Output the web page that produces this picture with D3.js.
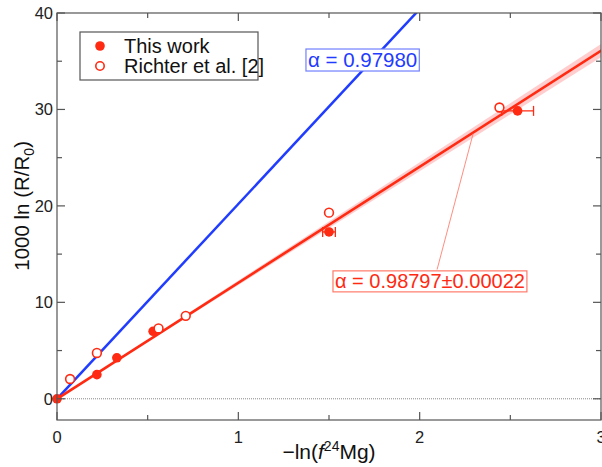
<!DOCTYPE html>
<html>
<head>
<meta charset="utf-8">
<script src="https://cdn.jsdelivr.net/npm/d3@7"></script>
<style>
  body { margin: 0; background: #fff; }
  text { font-family: "Liberation Sans", Arial, Helvetica, sans-serif; }
</style>
</head>
<body>
<div id="chart"></div>
<script>
var width = 602;
var height = 467;
let red = "#ff2a12";
let blue = "#1f3cff";

// This work (filled)
let work_x = [0, 0.22, 0.33, 0.53, 1.50, 2.54];
let work_y = [0, 2.5, 4.25, 7.0, 17.3, 29.85];
let work_xerr = [0, 0, 0, 0, 0.035, 0.088];

// Richter et al. [2] (open)
let richter_x = [0.072, 0.22, 0.56, 0.71, 1.50, 2.44];
let richter_y = [2.05, 4.75, 7.3, 8.6, 19.3, 30.2];

// fitted slopes : 1000*(1-alpha)
let slope_richter = 20.2;   // alpha = 0.97980
let slope_work = 12.03;     // alpha = 0.98797
let slope_work_err = 0.23;  // +-0.00022

let x_ticks = [0, 1, 2, 3];
let x_minor = [0.5, 1.5, 2.5];
let y_ticks = [0, 10, 20, 30, 40];
let y_minor = [5, 15, 25, 35];

var margin = {left: 57, right: 1, top: 13, bottom: 47};

var svg = d3.select("#chart").append("svg")
  .attr("width", width)
  .attr("height", height);

var x = d3.scaleLinear().domain([0, 3]).range([margin.left, width - margin.right]);
var y = d3.scaleLinear().domain([-2.2, 40]).range([height - margin.bottom, margin.top]);

svg.append("clipPath").attr("id", "clip")
  .append("rect")
  .attr("x", x(0)).attr("y", y(40))
  .attr("width", x(3) - x(0)).attr("height", y(-2.2) - y(40));

var plot = svg.append("g").attr("clip-path", "url(#clip)");

//------------------ band + fit lines ------------------
let xs = [0, 3.2];
plot.append("path")
  .datum(xs)
  .attr("d", d3.area()
    .x(d => x(d))
    .y0(d => y(d * (slope_work - slope_work_err)))
    .y1(d => y(d * (slope_work + slope_work_err))))
  .style("fill", "rgba(255,90,90,0.3)");

plot.append("path")
  .datum(xs)
  .attr("d", d3.line().x(d => x(d)).y(d => y(d * slope_richter)))
  .style("stroke", blue).style("stroke-width", 2.5).style("fill", "none");

plot.append("path")
  .datum(xs)
  .attr("d", d3.line().x(d => x(d)).y(d => y(d * slope_work)))
  .style("stroke", red).style("stroke-width", 2.6).style("fill", "none");

// dotted zero line
plot.append("line")
  .attr("x1", x(0)).attr("x2", x(3))
  .attr("y1", y(0)).attr("y2", y(0))
  .style("stroke", "#888").style("stroke-width", 1)
  .style("stroke-dasharray", "1,1");

//------------------ points ------------------
let work = work_x.map((d, i) => ({x: d, y: work_y[i], e: work_xerr[i]}));
let richter = richter_x.map((d, i) => ({x: d, y: richter_y[i]}));

var g_err = svg.append("g").style("stroke", red).style("stroke-width", 1.3);
work.filter(d => d.e > 0).forEach(function(d) {
  g_err.append("line")
    .attr("x1", x(d.x - d.e)).attr("x2", x(d.x + d.e))
    .attr("y1", y(d.y)).attr("y2", y(d.y));
  [d.x - d.e, d.x + d.e].forEach(function(v) {
    g_err.append("line")
      .attr("x1", x(v)).attr("x2", x(v))
      .attr("y1", y(d.y) - 5).attr("y2", y(d.y) + 5);
  });
});

svg.append("g").selectAll("circle")
  .data(work).enter().append("circle")
  .attr("cx", d => x(d.x)).attr("cy", d => y(d.y))
  .attr("r", 4.8)
  .style("fill", red);

svg.append("g").selectAll("circle")
  .data(richter).enter().append("circle")
  .attr("cx", d => x(d.x)).attr("cy", d => y(d.y))
  .attr("r", 4.4)
  .style("fill", "#fff")
  .style("stroke", red).style("stroke-width", 1.6);

//------------------ annotations ------------------
// leader line for red label
svg.append("line")
  .attr("x1", x(2.096)).attr("y1", y(13.4))
  .attr("x2", x(2.295)).attr("y2", y(27.5))
  .style("stroke", "#ff7060").style("stroke-width", 0.8);

function label(txt, xv, yv, color, border, size) {
  var g = svg.append("g");
  var t = g.append("text")
    .attr("x", x(xv)).attr("y", y(yv))
    .style("font-size", size)
    .style("fill", color)
    .text(txt);
  var bb = t.node().getBBox();
  g.insert("rect", "text")
    .attr("x", bb.x - 2).attr("y", bb.y + 1)
    .attr("width", bb.width + 4).attr("height", bb.height - 1)
    .style("fill", "#fff")
    .style("stroke", border).style("stroke-width", 1.2);
}
label("\u03b1 = 0.97980", 1.384, 34.4, blue, "#7080ff", "20.5px");
label("\u03b1 = 0.98797\u00b10.00022", 1.533, 11.5, red, "#ff7a6a", "20px");

//------------------ frame + ticks ------------------
var frame = svg.append("g").style("stroke", "#555").style("stroke-width", 1.2);
frame.append("rect")
  .attr("x", x(0)).attr("y", y(40))
  .attr("width", x(3) - x(0)).attr("height", y(-2.2) - y(40))
  .style("fill", "none");

x_ticks.concat(x_minor).forEach(function(v) {
  let len = x_ticks.includes(v) ? 8 : 5;
  frame.append("line").attr("x1", x(v)).attr("x2", x(v))
    .attr("y1", y(-2.2)).attr("y2", y(-2.2) - len);
  frame.append("line").attr("x1", x(v)).attr("x2", x(v))
    .attr("y1", y(40)).attr("y2", y(40) + len);
});
y_ticks.concat(y_minor).forEach(function(v) {
  let len = y_ticks.includes(v) ? 8 : 5;
  frame.append("line").attr("y1", y(v)).attr("y2", y(v))
    .attr("x1", x(0)).attr("x2", x(0) + len);
  frame.append("line").attr("y1", y(v)).attr("y2", y(v))
    .attr("x1", x(3)).attr("x2", x(3) - len);
});

svg.append("g").selectAll("text")
  .data(x_ticks).enter().append("text")
  .attr("x", d => x(d)).attr("y", y(-2.2) + 23)
  .attr("text-anchor", "middle")
  .style("font-size", "16.5px").style("fill", "#222")
  .text(d => d);

svg.append("g").selectAll("text")
  .data(y_ticks).enter().append("text")
  .attr("x", x(0) - 4).attr("y", d => y(d) + 6)
  .attr("text-anchor", "end")
  .style("font-size", "16.5px").style("fill", "#222")
  .text(d => d);

// axis titles
var xt = svg.append("text")
  .attr("x", (x(0) + x(3)) / 2).attr("y", 459)
  .attr("text-anchor", "middle")
  .style("font-size", "21px").style("fill", "#111");
xt.append("tspan").text("\u2212ln(");
xt.append("tspan").style("font-style", "italic").text("f");
xt.append("tspan").attr("dy", -8).style("font-size", "14px").text("24");
xt.append("tspan").attr("dy", 8).text("Mg)");

var yt = svg.append("text")
  .attr("transform", "translate(29," + y(20) + ") rotate(-90)")
  .attr("text-anchor", "middle")
  .style("font-size", "20.5px").style("fill", "#111");
yt.append("tspan").text("1000 ln (R/R");
yt.append("tspan").attr("dy", 5).style("font-size", "14px").text("0");
yt.append("tspan").attr("dy", -5).text(")");

//------------------ legend ------------------
var leg = svg.append("g");
leg.append("rect")
  .attr("x", 80).attr("y", 32).attr("width", 178).attr("height", 48)
  .style("fill", "#fff").style("stroke", "#555").style("stroke-width", 1.2);
leg.append("circle").attr("cx", 100).attr("cy", 46).attr("r", 4.8).style("fill", red);
leg.append("circle").attr("cx", 100).attr("cy", 66).attr("r", 4.2)
  .style("fill", "#fff").style("stroke", red).style("stroke-width", 1.6);
leg.append("text").attr("x", 124).attr("y", 53)
  .style("font-size", "20px").style("fill", "#111").text("This work");
leg.append("text").attr("x", 124).attr("y", 73)
  .style("font-size", "20px").style("fill", "#111").text("Richter et al. [2]");
</script>
</body>
</html>
